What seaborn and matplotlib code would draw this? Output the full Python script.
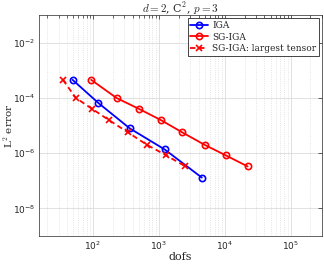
import matplotlib
matplotlib.use("Agg")
import matplotlib.pyplot as plt
import matplotlib.ticker as mticker
import numpy as np
import pandas as pd
import seaborn as sns

sns.set_style("white")
plt.rcParams["mathtext.fontset"] = "cm"
plt.rcParams["font.family"] = ["DejaVu Sans"]

# data
iga_dofs = [49, 121, 361, 1225, 4489]
iga_err = [4.5e-4, 6.5e-5, 7.9e-6, 1.36e-6, 1.3e-7]

sg_dofs = [94, 228, 499, 1086, 2276, 4944, 10370, 22280]
sg_err = [4.5e-4, 9.9e-5, 4.0e-5, 1.55e-5, 5.6e-6, 2.0e-6, 8.3e-7, 3.3e-7]

tensor_dofs = [35, 55, 97, 176, 341, 659, 1291, 2530]
tensor_err = sg_err

series_names = ["IGA", "SG-IGA", "SG-IGA: largest tensor"]
series_colors = ["#0000ff", "#ff0000", "#ff0000"]
series_markers = ["o", "o", "x"]
series_dashes = ["-", "-", (0, (3, 2))]

fig = plt.figure(figsize=(3.24, 2.66), dpi=100)
ax = fig.add_axes([0.1194, 0.1128, 0.8746, 0.8308])

serif = "DejaVu Serif"
for name, x, y, c, m, ls in zip(series_names, [iga_dofs, sg_dofs, tensor_dofs],
                                [iga_err, sg_err, tensor_err],
                                series_colors, series_markers, series_dashes):
    d = pd.DataFrame({"dofs": x, "err": y})
    sns.lineplot(data=d, x="dofs", y="err", color=c, marker=m, linestyle=ls,
                 markersize=4.5, markerfacecolor="none", markeredgecolor=c,
                 markeredgewidth=1.2, linewidth=1.3, sort=False, label=name, ax=ax)

ax.set_xscale("log")
ax.set_yscale("log")
ax.set_xlim(15, 3e5)
ax.set_ylim(1e-9, 1e-1)

ax.xaxis.set_minor_locator(mticker.LogLocator(base=10, subs=np.arange(2, 10), numticks=20))
ax.set_xticks([1e2, 1e3, 1e4, 1e5])
ax.set_xticklabels([r"$\mathregular{10^{2}}$", r"$\mathregular{10^{3}}$",
                    r"$\mathregular{10^{4}}$", r"$\mathregular{10^{5}}$"])
ax.set_yticks([1e-8, 1e-6, 1e-4, 1e-2])
ax.set_yticklabels([r"$\mathregular{10^{-8}}$", r"$\mathregular{10^{-6}}$",
                    r"$\mathregular{10^{-4}}$", r"$\mathregular{10^{-2}}$"])
ax.yaxis.set_minor_locator(mticker.NullLocator())

ax.tick_params(which="both", direction="in", top=True, right=True,
               labelsize=6.5, colors="#262626", width=0.5, pad=2.5)
ax.tick_params(which="major", length=3)
ax.tick_params(which="minor", length=1.8)

ax.grid(True, which="major", color="#dcdcdc", linewidth=0.6)
ax.grid(True, which="minor", axis="x", color="#dcdcdc", linestyle=":", linewidth=0.6)
ax.set_axisbelow(True)
for s in ax.spines.values():
    s.set_color("#262626")
    s.set_linewidth(0.5)

ax.set_xlabel("dofs", fontsize=8, family=serif, labelpad=0)
ax.set_ylabel(r"L$^2$ error", fontsize=7.5, family=serif)
ax.yaxis.set_label_coords(-0.083, 0.5)
ax.set_title(r"$d=2$, C$^2$, $p=3$", fontsize=8, family=serif, pad=2)

leg = ax.legend(loc="upper right", frameon=True, fancybox=False,
                edgecolor="#262626", borderaxespad=0.35, handlelength=2.0,
                handletextpad=0.4, labelspacing=0.3, borderpad=0.3,
                prop={"family": serif, "size": 6.5})
leg.get_frame().set_linewidth(0.6)
leg.get_frame().set_alpha(1)

fig.savefig("out.png", dpi=100)
plt.close(fig)
